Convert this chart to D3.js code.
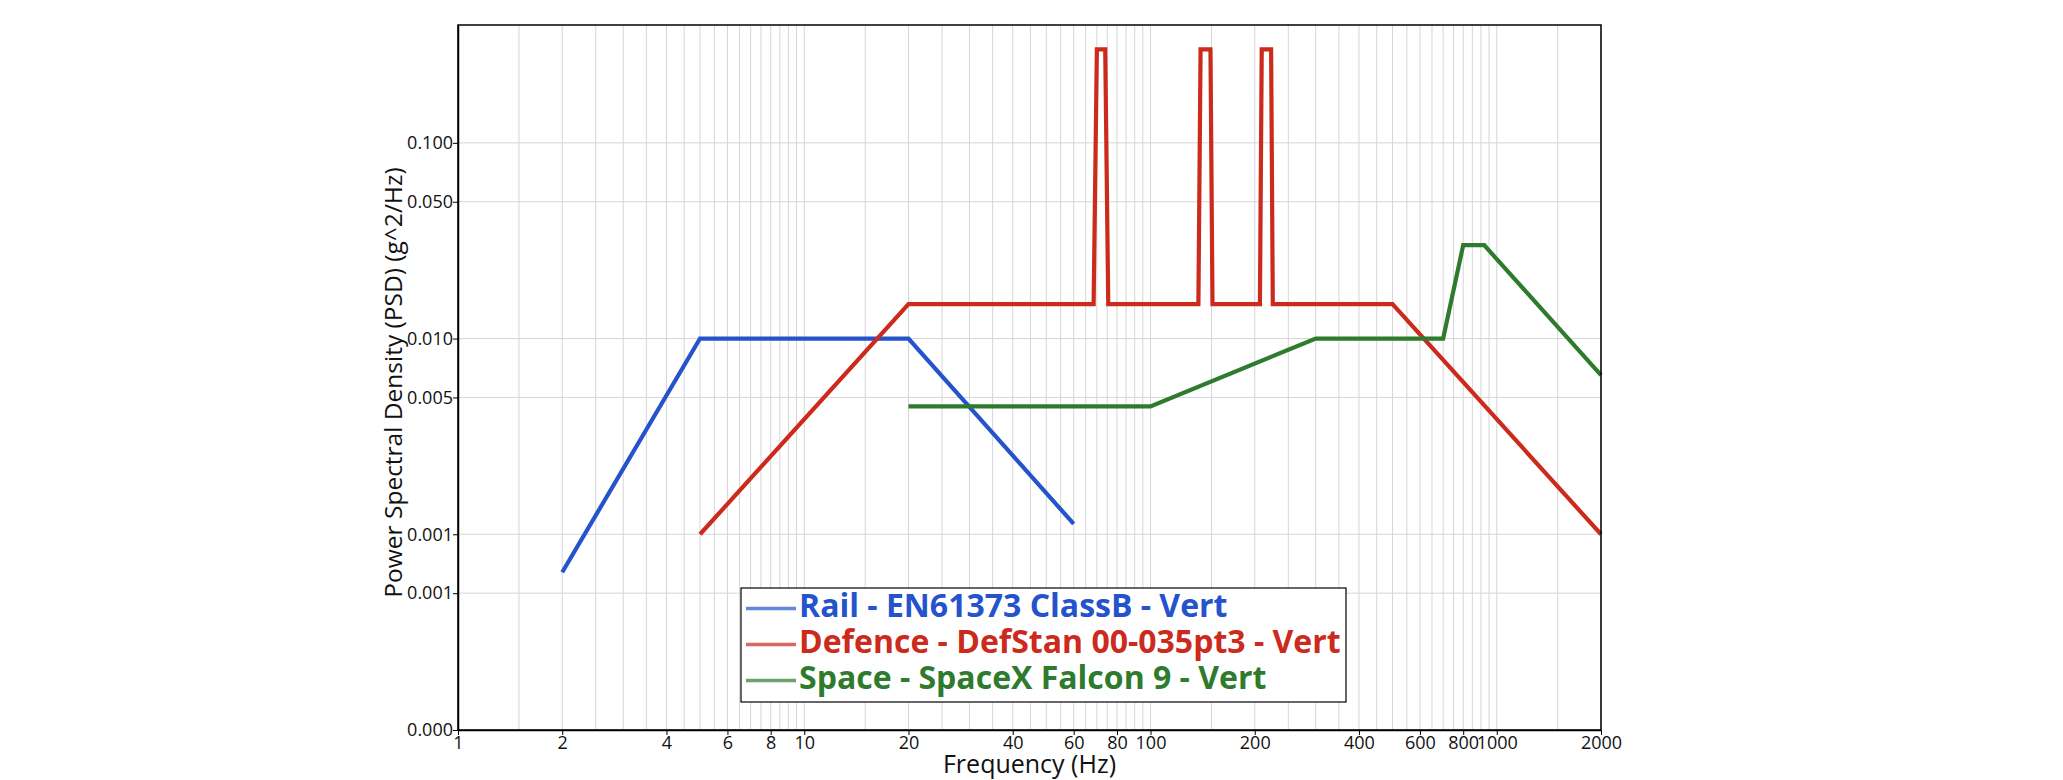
<!DOCTYPE html>
<html>
<head>
<meta charset="utf-8">
<script src="https://cdn.jsdelivr.net/npm/d3@7"></script>
<style>
  html, body { margin: 0; padding: 0; background: #fff; }
  svg { display: block; font-family: "Open Sans", "Noto Sans", sans-serif; }
</style>
</head>
<body>
<svg id="chart" width="2063" height="780"></svg>
<script>
// ---- data ----
const railFreq = [2, 5, 20, 60];
const railPsd  = [0.00064, 0.01, 0.01, 0.00113];

const defFreq = [5, 20, 68.5, 70, 74, 75.5, 137.5, 139.5, 149, 151, 207, 209.5, 223, 225.5, 500, 2000];
const defPsd  = [0.001, 0.015, 0.015, 0.3, 0.3, 0.015, 0.015, 0.3, 0.3, 0.015, 0.015, 0.3, 0.3, 0.015, 0.015, 0.001];

const spaceFreq = [20, 100, 300, 700, 800, 920, 2000];
const spacePsd  = [0.0045, 0.0045, 0.01, 0.01, 0.03, 0.03, 0.0065];

const seriesNames = ["Rail - EN61373 ClassB - Vert", "Defence - DefStan 00-035pt3 - Vert", "Space - SpaceX Falcon 9 - Vert"];
const seriesColors = ["#2553cc", "#cc2a1c", "#2e7b2e"];

const xTickValues = [1, 2, 4, 6, 8, 10, 20, 40, 60, 80, 100, 200, 400, 600, 800, 1000, 2000];
const yTickValues = [0.1, 0.05, 0.01, 0.005, 0.001, 0.0005, 0.0001];
const yTickLabels = ["0.100", "0.050", "0.010", "0.005", "0.001", "0.001", "0.000"];
const gridSteps = [1, 1.5, 2, 2.5, 3, 3.5, 4, 4.5, 5, 5.5, 6, 6.5, 7, 7.5, 8, 8.5, 9, 9.5];
const gridDecades = [1, 10, 100, 1000];

// ---- layout ----
const L = 458, R = 1601, T = 25, B = 730;
const svg = d3.select("#chart");

const x = d3.scaleLog().domain([1, 2000]).range([L, R]);
const y = d3.scaleLog().domain([0.0001, 0.4]).range([B, T]);

// grid
const gridX = [];
gridDecades.forEach(d => gridSteps.forEach(s => { const v = d * s; if (v <= 2000) gridX.push(v); }));
gridX.push(2000);
svg.append("g").selectAll("line").data(gridX).join("line")
  .attr("x1", d => x(d)).attr("x2", d => x(d))
  .attr("y1", T).attr("y2", B)
  .attr("stroke", "#d6d6d6").attr("stroke-width", 1);
svg.append("g").selectAll("line").data(yTickValues).join("line")
  .attr("x1", L).attr("x2", R)
  .attr("y1", d => y(d)).attr("y2", d => y(d))
  .attr("stroke", "#d6d6d6").attr("stroke-width", 1);

// series
const series = [
  railFreq.map((f, i) => [f, railPsd[i]]),
  defFreq.map((f, i) => [f, defPsd[i]]),
  spaceFreq.map((f, i) => [f, spacePsd[i]])
];
const line = d3.line().x(d => x(d[0])).y(d => y(d[1]));
series.forEach((s, i) => {
  svg.append("path").datum(s)
    .attr("d", line)
    .attr("fill", "none")
    .attr("stroke", seriesColors[i])
    .attr("stroke-width", 4.2)
    .attr("stroke-linejoin", "miter");
});

// frame
svg.append("rect").attr("x", L).attr("y", T).attr("width", R - L).attr("height", B - T)
  .attr("fill", "none").attr("stroke", "#000").attr("stroke-width", 1.5);

// axes
const xAxis = svg.append("g").attr("transform", `translate(0,${B})`)
  .call(d3.axisBottom(x).tickValues(xTickValues).tickFormat(d3.format("d")).tickSize(5).tickSizeOuter(0));
xAxis.select(".domain").attr("stroke", "#000").attr("stroke-width", 1.5);
xAxis.selectAll("text").attr("font-size", 18).attr("fill", "#111").attr("y", 6)
  .attr("font-family", "'Open Sans', sans-serif");

const yAxis = svg.append("g").attr("transform", `translate(${L},0)`)
  .call(d3.axisLeft(y).tickValues(yTickValues).tickFormat((d, i) => yTickLabels[i]).tickSize(5).tickSizeOuter(0));
yAxis.select(".domain").attr("stroke", "#000").attr("stroke-width", 1.5);
yAxis.selectAll("text").attr("font-size", 18).attr("fill", "#111").attr("x", -5)
  .attr("font-family", "'Open Sans', sans-serif");

// axis titles
svg.append("text").attr("x", (L + R) / 2).attr("y", 773)
  .attr("text-anchor", "middle").attr("font-size", 25).attr("fill", "#111")
  .text("Frequency (Hz)");
svg.append("text").attr("transform", `translate(402,${(T + B) / 2 + 5}) rotate(-90)`)
  .attr("text-anchor", "middle").attr("font-size", 24.5).attr("fill", "#111")
  .text("Power Spectral Density (PSD) (g^2/Hz)");

// legend
const lg = svg.append("g");
lg.append("rect").attr("x", 741).attr("y", 588).attr("width", 605).attr("height", 114)
  .attr("fill", "#fff").attr("stroke", "#000").attr("stroke-width", 1.2);
seriesNames.forEach((name, i) => {
  const by = 616.5 + i * 36;
  lg.append("line").attr("x1", 746).attr("x2", 796).attr("y1", by - 8).attr("y2", by - 8)
    .attr("stroke", seriesColors[i]).attr("stroke-width", 3.5).attr("opacity", 0.7);
  lg.append("text").attr("x", 799).attr("y", by)
    .attr("font-size", 32).attr("font-weight", "bold").attr("fill", seriesColors[i])
    .text(name);
});
</script>
</body>
</html>
